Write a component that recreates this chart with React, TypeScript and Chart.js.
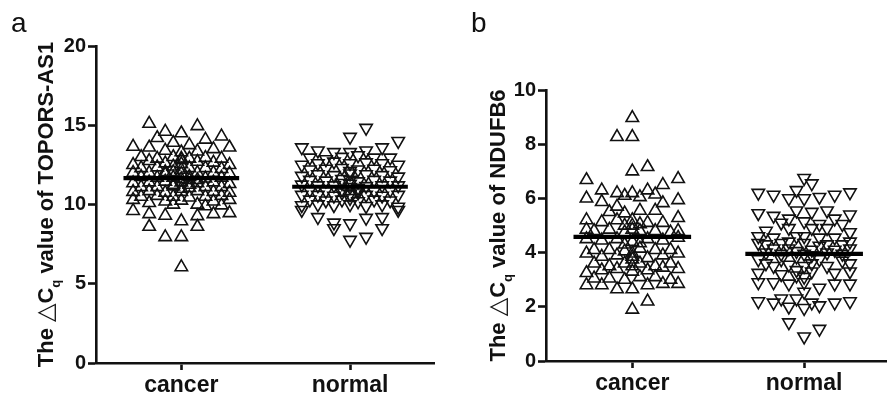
import React, { useEffect, useRef } from 'react';
import { Chart, registerables } from 'chart.js';

Chart.register(...registerables);

// ---------- data ----------
const categories = ['cancer', 'normal'];

const yTicksA = [0, 5, 10, 15, 20];
const yTicksB = [0, 2, 4, 6, 8, 10];

// group centres on the x axis (in column-slot units)
const centersA = [0, 21];
const centersB = [0, 22.5];

// means (horizontal bars)
const meansA = [11.67, 11.12];
const meansB = [4.58, 3.95];

// points: [column slot offset from group centre, ΔCq value]
const cancerA = [
  [-4, 15.1], [2, 14.95], [-2, 14.6], [0, 14.5], [-3, 14.2], [3, 14.1], [5, 14.3], [-1, 13.9], [1, 13.75], [-6, 13.65], [6, 13.6], [-4, 13.6], [-2, 13.4], [2, 13.35], [4, 13.5], [0, 13.3],
  [-5, 13.0], [-3, 12.9], [-1, 13.0], [1, 12.9], [3, 12.95], [5, 12.9],
  [-6, 12.5], [-4, 12.75], [-2, 12.6], [0, 12.8], [2, 12.7], [4, 12.65], [6, 12.5],
  [-5, 12.3], [-3, 12.35], [-1, 12.4], [0, 12.2], [1, 12.3], [3, 12.3], [5, 12.25],
  [-6, 12.0], [-4, 12.0], [-2, 12.05], [0, 11.95], [2, 12.0], [4, 12.0], [6, 11.95],
  [-5, 11.75], [-3, 11.7], [-1, 11.7], [1, 11.75], [3, 11.65], [5, 11.7],
  [-6, 11.35], [-4, 11.4], [-2, 11.45], [0, 11.4], [2, 11.35], [4, 11.4], [6, 11.3],
  [-5, 11.1], [-3, 11.1], [-1, 11.15], [1, 11.05], [3, 11.1], [5, 11.1],
  [-6, 10.8], [-4, 10.85], [-2, 10.75], [0, 10.8], [2, 10.85], [4, 10.8], [6, 10.75],
  [-5, 10.5], [-3, 10.55], [-1, 10.5], [1, 10.45], [3, 10.5], [5, 10.55],
  [-6, 10.3], [-2, 10.2], [0, 10.25], [4, 10.2], [6, 10.3],
  [-4, 10.1], [-1, 10.0], [2, 10.0], [5, 9.95], [3, 9.9],
  [-6, 9.6], [-4, 9.4], [-2, 9.3], [0, 8.95], [2, 9.27], [4, 9.4], [6, 9.46],
  [-4, 8.6], [2, 8.6], [-2, 7.95], [0, 7.95], [0, 6.05],
  [0, 12.55], [-1, 12.05], [1, 11.55], [0, 11.6], [-1, 11.25], [1, 11.25], [0, 11.0], [0, 12.9], [-2, 11.9], [2, 11.55],
];

const normalA = [
  [2, 14.83], [0, 14.26], [6, 14.0], [-6, 13.6], [-4, 13.4], [-2, 13.3], [0, 13.3], [2, 13.4], [4, 13.6],
  [-5, 12.95], [-3, 12.85], [-1, 13.0], [1, 13.1], [3, 12.95], [5, 12.95],
  [-6, 12.5], [6, 12.5],
  [-4, 12.6], [-2, 12.7], [0, 12.6], [2, 12.65], [4, 12.6],
  [-5, 12.2], [-3, 12.25], [-1, 12.3], [1, 12.2], [3, 12.25], [5, 12.15],
  [-6, 11.8], [-4, 11.9], [-2, 11.85], [0, 11.95], [2, 11.9], [4, 11.85], [6, 11.75],
  [-5, 11.55], [-3, 11.5], [-1, 11.6], [1, 11.45], [3, 11.55], [5, 11.5],
  [-6, 11.25], [-4, 11.2], [-2, 11.2], [0, 11.3], [2, 11.15], [4, 11.2], [6, 11.2],
  [-5, 10.9], [-3, 10.85], [-1, 10.95], [1, 10.9], [3, 10.85], [5, 10.9],
  [-6, 10.6], [-4, 10.6], [-2, 10.55], [0, 10.65], [2, 10.6], [4, 10.55], [6, 10.6],
  [-5, 10.3], [-3, 10.25], [-1, 10.3], [1, 10.2], [3, 10.3], [5, 10.25],
  [-6, 9.95], [-4, 10.0], [-2, 9.95], [0, 10.0], [2, 9.9], [4, 10.0], [6, 9.85],
  [-6, 9.65], [-4, 9.2], [6, 9.65], [4, 9.2], [2, 9.15],
  [-2, 8.85], [-2, 8.5], [0, 8.8], [4, 8.5], [0, 7.76], [2, 7.95],
  [0, 11.1], [-1, 11.35], [1, 11.05], [0, 11.55], [-1, 10.75], [1, 10.75], [0, 12.1], [0, 10.4],
];

const cancerB = [
  [0, 8.97], [-2, 8.27], [0, 8.27], [0, 7.0], [2, 7.16], [-6, 6.68], [6, 6.72], [-4, 6.3], [-6, 6.0], [-4, 5.87], [-2, 6.2], [0, 6.2], [2, 6.3], [4, 6.5], [6, 5.94],
  [-1, 6.1], [1, 6.05], [3, 6.15],
  [-2, 5.7], [4, 5.83], [-3, 5.5], [-1, 5.45], [1, 5.55], [3, 5.55],
  [-6, 5.2], [-4, 5.13], [6, 5.28], [-2, 5.2], [0, 5.2], [2, 5.1], [4, 5.1],
  [-6, 4.85], [-5, 4.8], [-3, 4.85], [-1, 4.75], [0, 5.0], [1, 4.8], [3, 4.8], [5, 4.75], [6, 4.8],
  [-6, 4.5], [-4, 4.45], [-2, 4.5], [0, 4.4], [2, 4.5], [4, 4.45], [6, 4.55],
  [-5, 4.1], [-3, 4.1], [-1, 4.05], [1, 4.15], [3, 4.1], [5, 4.1],
  [-6, 3.97], [-4, 3.85], [-2, 3.9], [0, 3.97], [2, 3.8], [4, 3.9], [6, 3.97],
  [-5, 3.6], [-3, 3.5], [-1, 3.6], [0, 3.5], [1, 3.6], [3, 3.5], [5, 3.6],
  [-6, 3.25], [-4, 3.35], [-2, 3.4], [0, 3.3], [2, 3.35], [4, 3.45], [6, 3.4],
  [-5, 3.05], [-3, 3.05], [-1, 3.0], [1, 3.1], [3, 3.1], [5, 3.0],
  [-6, 2.8], [-4, 2.8], [-2, 2.65], [0, 2.65], [2, 2.8], [4, 2.85], [6, 2.85],
  [2, 2.2], [0, 1.9],
  [0, 4.85], [-1, 4.3], [1, 4.35], [0, 3.75], [0, 3.85], [-1, 5.0], [1, 5.05],
];

const normalB = [
  [0, 6.75], [1, 6.55], [-1, 6.3], [-6, 6.2], [-4, 6.13], [-2, 6.0], [0, 6.0], [2, 6.05], [4, 6.13], [6, 6.22],
  [-6, 5.45], [-4, 5.35], [-2, 5.25], [-1, 5.55], [1, 5.5], [3, 5.55], [4, 5.25], [6, 5.4],
  [-3, 5.1], [0, 5.15], [2, 5.05], [5, 5.05],
  [-5, 4.8], [-2, 4.9], [1, 4.9], [3, 4.9], [6, 4.75],
  [-6, 4.6], [-4, 4.55], [-1, 4.6], [2, 4.55], [4, 4.55], [6, 4.4],
  [-6, 4.35], [-5, 4.3], [-3, 4.35], [0, 4.35], [3, 4.3], [5, 4.3],
  [-4, 4.15], [-2, 4.15], [1, 4.1], [4, 4.1], [6, 4.15],
  [-6, 3.75], [-3, 3.75], [-1, 3.85], [2, 3.75], [5, 3.7], [-5, 3.6],
  [-4, 3.5], [-2, 3.55], [0, 3.5], [3, 3.5], [6, 3.6],
  [-6, 3.25], [-3, 3.2], [-1, 3.15], [1, 3.3], [4, 3.25], [6, 3.3],
  [-6, 2.9], [-4, 2.9], [-2, 2.85], [0, 2.9], [2, 2.7], [4, 2.85], [6, 2.85],
  [0, 2.55],
  [-6, 2.2], [-4, 2.15], [-3, 2.3], [-1, 2.3], [-2, 2.0], [0, 1.95], [1, 2.15], [2, 2.05], [4, 2.15], [6, 2.2],
  [-2, 1.42], [0, 0.9], [2, 1.18],
  [0, 3.95], [-1, 4.05], [1, 3.9], [0, 4.6], [-1, 3.35], [1, 3.6], [0, 3.1], [2, 4.25], [-2, 4.4], [3, 4.0], [-3, 3.95], [5, 3.95], [-5, 4.0],
];

// ---------- styling ----------
const FONT = '"Liberation Sans", Arial, Helvetica, sans-serif';
const INK = '#111111';

const yTitlePlugin = {
  id: 'yTitle',
  afterDraw(chart: any, _args: any, opts: any) {
    if (!opts || !opts.gene) return;
    const { ctx, chartArea } = chart;
    const size = opts.size;
    const parts = [
      { t: 'The ', f: `bold ${size}px ${FONT}`, dy: 0 },
      { t: '\u25B3', f: `${Math.round(size * 1.1)}px "DejaVu Sans", sans-serif`, dy: 0 },
      { t: 'C', f: `bold ${size}px ${FONT}`, dy: 0 },
      { t: 'q', f: `bold ${Math.round(size * 0.6)}px ${FONT}`, dy: size * 0.3 },
      { t: ' value of ' + opts.gene, f: `bold ${size}px ${FONT}`, dy: 0 },
    ];
    ctx.save();
    let total = 0;
    const widths = parts.map((p) => {
      ctx.font = p.f;
      const w = ctx.measureText(p.t).width;
      total += w;
      return w;
    });
    const cy = (chartArea.top + chartArea.bottom) / 2 + (opts.dy || 0);
    ctx.translate(opts.x, cy);
    ctx.rotate(-Math.PI / 2);
    ctx.textBaseline = 'alphabetic';
    ctx.textAlign = 'left';
    ctx.fillStyle = INK;
    let x = -total / 2;
    const baseY = size * 0.36;
    parts.forEach((p, i) => {
      ctx.font = p.f;
      ctx.fillText(p.t, x, baseY + p.dy);
      x += widths[i];
    });
    ctx.restore();
  },
};

function makeConfig(p: any) {
  const toPts = (arr: number[][], c: number) => arr.map(([k, v]) => ({ x: c + k, y: v }));
  const meanLine = (c: number, m: number) => [
    { x: c - p.meanHalf, y: m },
    { x: c + p.meanHalf, y: m },
  ];
  const pointStyle = {
    pointStyle: 'triangle',
    pointRadius: 7.2,
    pointHoverRadius: 7.2,
    pointBorderWidth: 1.6,
    pointBorderColor: INK,
    pointBackgroundColor: 'rgba(0,0,0,0)',
    borderColor: INK,
    backgroundColor: 'rgba(0,0,0,0)',
    showLine: false,
  };
  const lineStyle = {
    type: 'line',
    showLine: true,
    borderColor: '#000',
    borderWidth: 4.2,
    pointRadius: 0,
    borderCapStyle: 'butt',
    fill: false,
  };
  return {
    type: 'scatter',
    data: {
      datasets: [
        { ...lineStyle, data: meanLine(p.centers[0], p.means[0]) },
        { ...lineStyle, data: meanLine(p.centers[1], p.means[1]) },
        { ...pointStyle, data: toPts(p.cancer, p.centers[0]), pointRotation: 0 },
        { ...pointStyle, data: toPts(p.normal, p.centers[1]), pointRotation: 180 },
      ],
    },
    options: {
      animation: false,
      responsive: false,
      devicePixelRatio: 1,
      events: [],
      layout: { padding: { left: 0, top: p.top, right: 6, bottom: 0 } },
      plugins: {
        legend: { display: false },
        tooltip: { enabled: false },
        yTitle: { gene: p.gene, size: 22, x: p.titleX },
      },
      scales: {
        x: {
          type: 'linear',
          min: p.xMin,
          max: p.xMax,
          afterFit: (s: any) => {
            s.height = p.xHeight;
          },
          afterBuildTicks: (s: any) => {
            s.ticks = p.centers.map((v: number) => ({ value: v }));
          },
          border: { display: true, color: INK, width: 2.6 },
          grid: {
            display: true,
            drawOnChartArea: false,
            drawTicks: true,
            tickLength: 7,
            tickWidth: 2.6,
            tickColor: INK,
            color: INK,
          },
          ticks: {
            autoSkip: false,
            maxRotation: 0,
            padding: 2,
            color: INK,
            font: { family: FONT, size: 23, weight: 'bold' },
            callback: (_v: any, i: number) => categories[i],
          },
        },
        y: {
          type: 'linear',
          min: p.yTicks[0],
          max: p.yTicks[p.yTicks.length - 1],
          afterFit: (s: any) => {
            s.width = p.yWidth;
          },
          afterBuildTicks: (s: any) => {
            s.ticks = p.yTicks.map((v: number) => ({ value: v }));
          },
          border: { display: true, color: INK, width: 2.6 },
          grid: {
            display: true,
            drawOnChartArea: false,
            drawTicks: true,
            tickLength: 8,
            tickWidth: 2.6,
            tickColor: INK,
            color: INK,
          },
          ticks: {
            padding: 2,
            color: INK,
            font: { family: FONT, size: 20, weight: 'bold' },
          },
        },
      },
    },
    plugins: [yTitlePlugin],
  };
}

function Panel(props: { params: any; left: number; width: number; height: number }) {
  const ref = useRef<HTMLCanvasElement | null>(null);
  useEffect(() => {
    const chart = new Chart(ref.current as HTMLCanvasElement, makeConfig(props.params) as any);
    return () => chart.destroy();
  }, []);
  return (
    <canvas
      ref={ref}
      width={props.width}
      height={props.height}
      style={{ position: 'absolute', left: props.left, top: 0, width: props.width, height: props.height }}
    />
  );
}

const panelA = {
  gene: 'TOPORS-AS1',
  cancer: cancerA,
  normal: normalA,
  centers: centersA,
  means: meansA,
  yTicks: yTicksA,
  meanHalf: 7.2,
  xMin: -10.62,
  xMax: 31.48,
  top: 46,
  yWidth: 96,
  xHeight: 32,
  titleX: 45.5,
};

const panelB = {
  gene: 'NDUFB6',
  cancer: cancerB,
  normal: normalB,
  centers: centersB,
  means: meansB,
  yTicks: yTicksB,
  meanHalf: 7.7,
  xMin: -11.3,
  xMax: 33.9,
  top: 90,
  yWidth: 103,
  xHeight: 34,
  titleX: 54,
};

const letterStyle: React.CSSProperties = {
  position: 'absolute',
  top: 9,
  fontFamily: FONT,
  fontSize: 28,
  lineHeight: '28px',
  color: INK,
};

export default function App() {
  return (
    <div
      style={{
        position: 'absolute',
        left: 0,
        top: 0,
        width: 887,
        height: 395,
        overflow: 'hidden',
        background: '#fff',
      }}
    >
      <Panel params={panelA} left={0} width={443} height={395} />
      <Panel params={panelB} left={443} width={457} height={395} />
      <div style={{ ...letterStyle, left: 11 }}>a</div>
      <div style={{ ...letterStyle, left: 471 }}>b</div>
    </div>
  );
}
